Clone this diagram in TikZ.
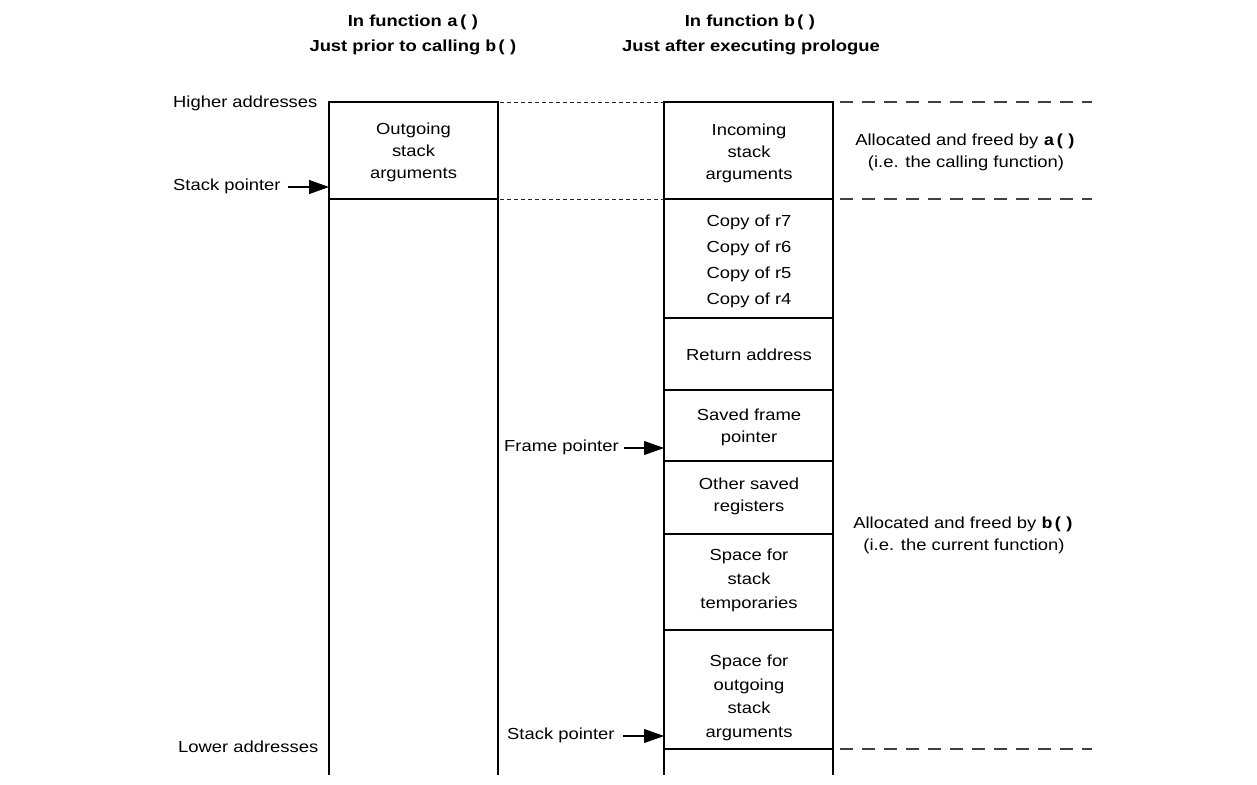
\documentclass[tikz,border=0pt]{standalone}
\usepackage{fontspec}
\setmainfont[FakeStretch=1.15]{Liberation Sans}
\setmonofont[FakeStretch=1.15]{Liberation Mono}
\usetikzlibrary{arrows.meta}
\newcommand{\cod}[1]{{\ttfamily\bfseries #1}}
\begin{document}
\begin{tikzpicture}[x=1pt,y=-1pt,
  every node/.style={font=\fontsize{16}{22}\selectfont, inner sep=0pt, align=center},
  frame/.style={line width=1.1pt, draw=black},
  shortdash/.style={line width=0.9pt, draw=black!85, dash pattern=on 4pt off 3pt},
  longdash/.style={line width=1.3pt, draw=black!75, dash pattern=on 12.5pt off 9.5pt},
  ptr/.style={line width=1.1pt, -{Triangle[length=20pt,width=14pt]}},
  ttl/.style={font=\fontsize{16}{25}\selectfont\bfseries}]
\useasboundingbox (0,0) rectangle (1257,784);

% titles
\node[ttl] (ta) at (414,35) {In function \cod{a()}\\Just prior to calling \cod{b()}};
\node[ttl] (tb) at (751,35) {In function \cod{b()}\\Just after executing prologue};

% left column
\draw[frame] (329,775) -- (329,102) -- (498,102) -- (498,775);
\draw[frame] (329,199) -- (498,199);
% right column
\draw[frame] (664,775) -- (664,102) -- (833,102) -- (833,775);
\foreach \yy in {199,318,390,461,534,630,749}
  \draw[frame] (664,\yy) -- (833,\yy);

% connecting dashes
\draw[shortdash] (500,102) -- (664,102);
\draw[shortdash] (500,199) -- (664,199);
\draw[longdash] (840,102) -- (1092,102);
\draw[longdash] (840,199) -- (1092,199);
\draw[longdash] (840,749) -- (1092,749);

% left labels
\node[anchor=west] (hi) at (173,103) {Higher addresses};
\node[anchor=west] (lo) at (178,747) {Lower addresses};
\node[anchor=west] (sp1) at (173,186) {Stack pointer};
\coordinate (sp1t) at (329,187);
\draw[ptr] ([xshift=7pt]sp1.east |- sp1t) -- (sp1t);

\node[anchor=west] (fp) at (504,447) {Frame pointer};
\coordinate (fpt) at (664,448);
\draw[ptr] ([xshift=5pt]fp.east |- fpt) -- (fpt);

\node[anchor=west] (sp2) at (507,735) {Stack pointer};
\coordinate (sp2t) at (664,736);
\draw[ptr] ([xshift=8pt]sp2.east |- sp2t) -- (sp2t);

% cell texts
\node (out) at (413.5,152) {Outgoing\\stack\\arguments};
\node (inc) at (749,153) {Incoming\\stack\\arguments};
\node[font=\fontsize{16}{26}\selectfont] (cp) at (749,261) {Copy of r7\\Copy of r6\\Copy of r5\\Copy of r4};
\node (ra) at (749,355) {Return address};
\node (sfp) at (749,427) {Saved frame\\pointer};
\node (osr) at (749,496) {Other saved\\registers};
\node[font=\fontsize{16}{24}\selectfont] (tmp) at (749,580) {Space for\\stack\\temporaries};
\node[font=\fontsize{16}{23.5}\selectfont] (osa) at (749,698) {Space for\\outgoing\\stack\\arguments};

% right descriptions
\node (da) at (966,152) {Allocated and freed by \cod{a()}\\(i.e. the calling function)};
\node (db) at (964,535) {Allocated and freed by \cod{b()}\\(i.e. the current function)};
\end{tikzpicture}
\end{document}
